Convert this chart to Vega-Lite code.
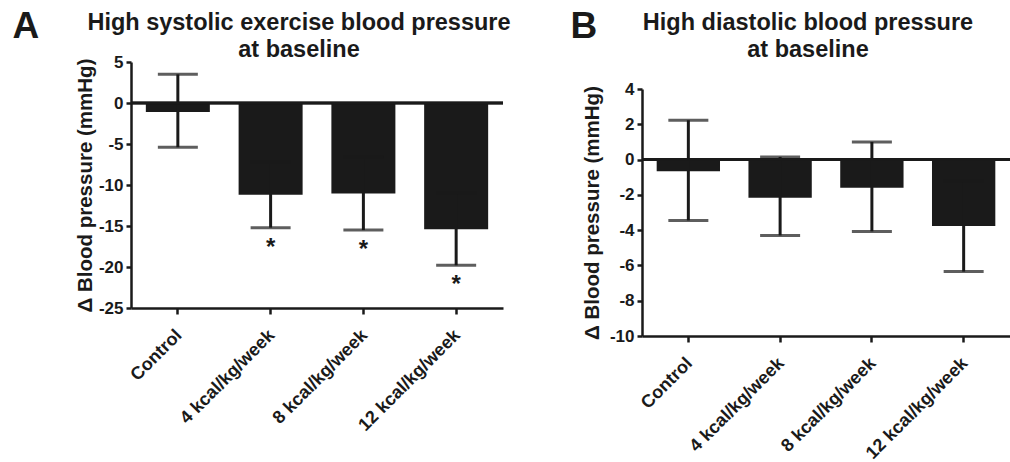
{
  "$schema": "https://vega.github.io/schema/vega-lite/v6.json",
  "padding": {"left": 12, "top": 7, "right": 0, "bottom": 0},
  "spacing": 59,
  "config": {
    "font": "Liberation Sans",
    "view": {"stroke": null},
    "axis": {"domainColor": "#1a1a1a", "domainWidth": 2.5, "tickColor": "#1a1a1a", "tickWidth": 2.5, "tickSize": 5, "labelColor": "#1a1a1a", "labelFontWeight": "bold", "titleColor": "#1a1a1a", "titleFontWeight": "bold", "grid": false, "labelOverlap": false},
    "title": {"color": "#1a1a1a", "fontWeight": "bold"}
  },
  "datasets": {
    "sys": [
      {"group": "Control", "mean": -1.1, "lower": -5.4, "upper": 3.5, "sig": ""},
      {"group": "4 kcal/kg/week", "mean": -11.2, "lower": -15.2, "upper": -7.2, "sig": "*"},
      {"group": "8 kcal/kg/week", "mean": -11.05, "lower": -15.5, "upper": -6.6, "sig": "*"},
      {"group": "12 kcal/kg/week", "mean": -15.4, "lower": -19.8, "upper": -11.0, "sig": "*"}
    ],
    "dia": [
      {"group": "Control", "mean": -0.66, "lower": -3.45, "upper": 2.23},
      {"group": "4 kcal/kg/week", "mean": -2.16, "lower": -4.3, "upper": 0.15},
      {"group": "8 kcal/kg/week", "mean": -1.6, "lower": -4.07, "upper": 1.0},
      {"group": "12 kcal/kg/week", "mean": -3.77, "lower": -6.35, "upper": -1.2}
    ]
  },
  "hconcat": [
    {
      "title": {"text": "A", "anchor": "start", "frame": "bounds", "fontSize": 37, "dx": -63, "dy": 35, "offset": 0},
      "vconcat": [
        {
          "width": 372,
          "height": 246,
          "title": {"text": ["High systolic exercise blood pressure", "at baseline"], "fontSize": 23.5, "lineHeight": 27, "frame": "group", "dx": -18, "offset": -8},
          "data": {"name": "sys"},
          "layer": [
            {
              "mark": {"type": "bar", "color": "#1a1a1a"},
              "encoding": {
                "x": {"field": "group", "type": "nominal", "sort": null, "title": null,
                  "scale": {"paddingInner": 0.31, "paddingOuter": 0.16},
                  "axis": {"labelAngle": -45, "labelFontSize": 18, "labelPadding": 12, "labelOffset": -5, "tickSize": 6}},
                "y": {"field": "mean", "type": "quantitative", "title": "Δ Blood pressure (mmHg)",
                  "scale": {"domain": [-25, 5], "nice": false, "zero": false},
                  "axis": {"values": [-25, -20, -15, -10, -5, 0, 5], "tickCount": 20, "labelExpr": "'' + datum.value", "labelOverlap": false, "labelFontSize": 17, "labelPadding": 3, "titleFontSize": 20.5, "titlePadding": 3}}
              }
            },
            {
              "mark": {"type": "rule", "color": "#1a1a1a", "strokeWidth": 3},
              "encoding": {
                "x": {"field": "group", "type": "nominal", "sort": null},
                "y": {"field": "lower", "type": "quantitative"},
                "y2": {"field": "upper"}
              }
            },
            {
              "mark": {"type": "tick", "color": "#1a1a1a", "size": 40, "thickness": 3, "orient": "horizontal"},
              "encoding": {
                "x": {"field": "group", "type": "nominal", "sort": null},
                "y": {"field": "lower", "type": "quantitative"}
              }
            },
            {
              "mark": {"type": "tick", "color": "#1a1a1a", "size": 40, "thickness": 3, "orient": "horizontal"},
              "encoding": {
                "x": {"field": "group", "type": "nominal", "sort": null},
                "y": {"field": "upper", "type": "quantitative"}
              }
            },
            {
              "mark": {"type": "text", "color": "#1a1a1a", "fontSize": 24, "fontWeight": "bold", "baseline": "top", "dy": 8},
              "encoding": {
                "x": {"field": "group", "type": "nominal", "sort": null},
                "y": {"field": "lower", "type": "quantitative"},
                "text": {"field": "sig"}
              }
            },
            {
              "mark": {"type": "rule", "color": "#1a1a1a", "strokeWidth": 2.5},
              "encoding": {"y": {"datum": 0}}
            }
          ]
        }
      ]
    },
    {
      "title": {"text": "B", "anchor": "start", "frame": "bounds", "fontSize": 37, "dx": -12, "dy": 35, "offset": 0},
      "vconcat": [
        {
          "width": 368,
          "height": 274,
          "title": {"text": ["High diastolic blood pressure", "at baseline"], "fontSize": 23.5, "lineHeight": 27, "frame": "group", "dx": -18, "offset": 1},
          "data": {"name": "dia"},
          "layer": [
            {
              "mark": {"type": "bar", "color": "#1a1a1a"},
              "encoding": {
                "x": {"field": "group", "type": "nominal", "sort": null, "title": null,
                  "scale": {"paddingInner": 0.31, "paddingOuter": 0.16},
                  "axis": {"labelAngle": -45, "labelFontSize": 18, "labelPadding": 12, "labelOffset": -5, "tickSize": 6}},
                "y": {"field": "mean", "type": "quantitative", "title": "Δ Blood pressure (mmHg)",
                  "scale": {"domain": [-10, 4], "nice": false, "zero": false, "range": [274, 27]},
                  "axis": {"values": [-10, -8, -6, -4, -2, 0, 2, 4], "tickCount": 20, "labelExpr": "'' + datum.value", "labelOverlap": false, "labelFontSize": 17, "labelPadding": 3, "titleFontSize": 20.5, "titlePadding": 7}}
              }
            },
            {
              "mark": {"type": "rule", "color": "#1a1a1a", "strokeWidth": 3},
              "encoding": {
                "x": {"field": "group", "type": "nominal", "sort": null},
                "y": {"field": "lower", "type": "quantitative"},
                "y2": {"field": "upper"}
              }
            },
            {
              "mark": {"type": "tick", "color": "#1a1a1a", "size": 40, "thickness": 3, "orient": "horizontal"},
              "encoding": {
                "x": {"field": "group", "type": "nominal", "sort": null},
                "y": {"field": "lower", "type": "quantitative"}
              }
            },
            {
              "mark": {"type": "tick", "color": "#1a1a1a", "size": 40, "thickness": 3, "orient": "horizontal"},
              "encoding": {
                "x": {"field": "group", "type": "nominal", "sort": null},
                "y": {"field": "upper", "type": "quantitative"}
              }
            },
            {
              "mark": {"type": "rule", "color": "#1a1a1a", "strokeWidth": 2.5},
              "encoding": {"y": {"datum": 0}}
            }
          ]
        }
      ]
    }
  ]
}
